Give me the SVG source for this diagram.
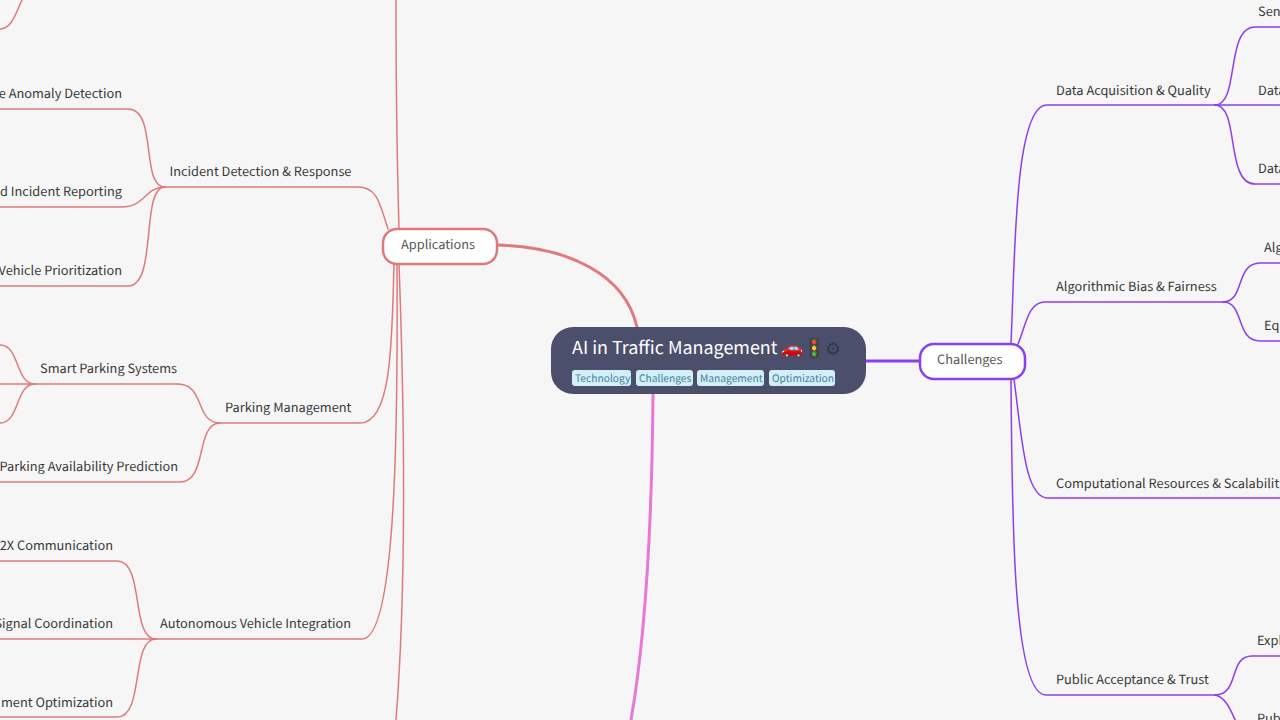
<svg xmlns="http://www.w3.org/2000/svg" width="1280" height="720" viewBox="0 0 1280 720">
<style>
text{font-family:"Noto Sans CJK SC","Noto Sans",sans-serif;font-size:12.8px;fill:#383838;text-rendering:geometricPrecision}
.c{fill:none;stroke-linecap:round}
.r{stroke:#e07a7a;stroke-width:1.5}
.p{stroke:#8a3ff0;stroke-width:1.5}
.tag{fill:#d2eff7;stroke:none}
.tt{font-size:10.24px;fill:#43829b}
.b{fill:#fff;stroke-width:2.5}
.m{fill:#555}
</style>
<rect width="1280" height="720" fill="#f6f6f6"/>
<g id="connectors">
<path class="c" d="M497 245C570 247 625 275 637 327" stroke="#e07a7a" stroke-width="3"/>
<path class="c" d="M866 361H919" stroke="#8a3ff0" stroke-width="3"/>
<path class="c" d="M653 394C652 520 645 640 631 720" stroke="#e878d8" stroke-width="3"/>
<path class="c r" d="M396 0C396 90 397 160 399 228"/>
<path class="c r" d="M388 229C380 205 378 187 358 187H165"/>
<path class="c r" d="M0 109H128C158 109 140 187 165 187"/>
<path class="c r" d="M0 207H122C145 207 145 187 165 187"/>
<path class="c r" d="M0 286H128C158 286 140 187 165 187"/>
<path class="c r" d="M394 264C392 340 392 423 360 423H220"/>
<path class="c r" d="M178 384C205 384 195 423 220 423"/>
<path class="c r" d="M0 384H178"/>
<path class="c r" d="M0 482H180C208 482 195 423 220 423"/>
<path class="c r" d="M0 345C20 345 15 384 35 384"/>
<path class="c r" d="M0 423C20 423 15 384 35 384"/>
<path class="c r" d="M397 264C398 430 396 639 362 639H156"/>
<path class="c r" d="M0 561H117C145 561 130 639 156 639"/>
<path class="c r" d="M0 639H156"/>
<path class="c r" d="M0 717H117C145 717 130 639 156 639"/>
<path class="c r" d="M399 264C404 400 407 580 396 720"/>
<path class="c r" d="M22 0C15 15 12 28 0 29"/>
<path class="c p" d="M1011 343C1015 260 1014 105 1047 105H1215"/>
<path class="c p" d="M1215 105C1240 105 1225 27 1255 27H1280"/>
<path class="c p" d="M1215 105H1280"/>
<path class="c p" d="M1215 105C1240 105 1225 184 1255 184H1280"/>
<path class="c p" d="M1018 344C1026 325 1028 302 1045 302H1223"/>
<path class="c p" d="M1223 302C1245 302 1235 263 1260 263H1280"/>
<path class="c p" d="M1223 302C1245 302 1235 341 1260 341H1280"/>
<path class="c p" d="M1014 379C1022 440 1025 498 1048 498H1280"/>
<path class="c p" d="M1011 379C1012 520 1013 695 1046 695H1215"/>
<path class="c p" d="M1215 695C1240 695 1228 656 1252 656H1280"/>
<path class="c p" d="M1215 695C1225 697 1230 708 1236 722"/>
</g>
<g id="root">
<rect x="551" y="327" width="315" height="67" rx="22" fill="#4c4f6b"/>
<text x="572" y="354" style="font-size:17.92px;fill:#fff">AI in Traffic Management 🚗🚦</text>
<text x="825" y="355" style="font-size:17.92px;fill:#35374a;font-family:'DejaVu Sans',sans-serif">⚙&#xFE0E;</text>
<rect class="tag" x="572" y="370" width="59" height="16" rx="3"/><text class="tt" x="575" y="382">Technology</text>
<rect class="tag" x="636" y="370" width="57" height="16" rx="3"/><text class="tt" x="639" y="382">Challenges</text>
<rect class="tag" x="697" y="370" width="67" height="16" rx="3"/><text class="tt" x="700" y="382">Management</text>
<rect class="tag" x="769" y="370" width="66" height="16" rx="3"/><text class="tt" x="772" y="382">Optimization</text>
</g>
<g id="applications"><rect class="b" x="383" y="229" width="114" height="35" rx="14" stroke="#e07a7a"/><text class="m" x="401" y="249">Applications</text></g>
<g id="challenges"><rect class="b" x="920" y="344" width="105" height="35" rx="14" stroke="#8a3ff0"/><text class="m" x="937" y="364">Challenges</text></g>
<g id="n1"><text x="169.5" y="176">Incident Detection &amp; Response</text></g>
<g id="n2"><text x="122" y="98" text-anchor="end">e Anomaly Detection</text></g>
<g id="n3"><text x="122" y="196" text-anchor="end">d Incident Reporting</text></g>
<g id="n4"><text x="122" y="275" text-anchor="end">Vehicle Prioritization</text></g>
<g id="n5"><text x="40" y="373">Smart Parking Systems</text></g>
<g id="n6"><text x="225" y="412">Parking Management</text></g>
<g id="n7"><text x="178" y="471" text-anchor="end">Parking Availability Prediction</text></g>
<g id="n8"><text x="113" y="550" text-anchor="end">2X Communication</text></g>
<g id="n9"><text x="113" y="628" text-anchor="end">Signal Coordination</text></g>
<g id="n10"><text x="160" y="628">Autonomous Vehicle Integration</text></g>
<g id="n11"><text x="113" y="707" text-anchor="end">ment Optimization</text></g>
<g id="n12"><text x="1056" y="95">Data Acquisition &amp; Quality</text></g>
<g id="n13"><text x="1056" y="291">Algorithmic Bias &amp; Fairness</text></g>
<g id="n14"><text x="1056" y="488">Computational Resources &amp; Scalabilit</text></g>
<g id="n15"><text x="1056" y="684">Public Acceptance &amp; Trust</text></g>
<g id="n16"><text x="1258" y="16">Sen</text></g>
<g id="n17"><text x="1258" y="95">Data</text></g>
<g id="n18"><text x="1258" y="173">Data</text></g>
<g id="n19"><text x="1264" y="252">Alg</text></g>
<g id="n20"><text x="1264" y="330">Eq</text></g>
<g id="n21"><text x="1257" y="645">Expl</text></g>
<g id="n22"><text x="1257" y="723">Pub</text></g>
</svg>
